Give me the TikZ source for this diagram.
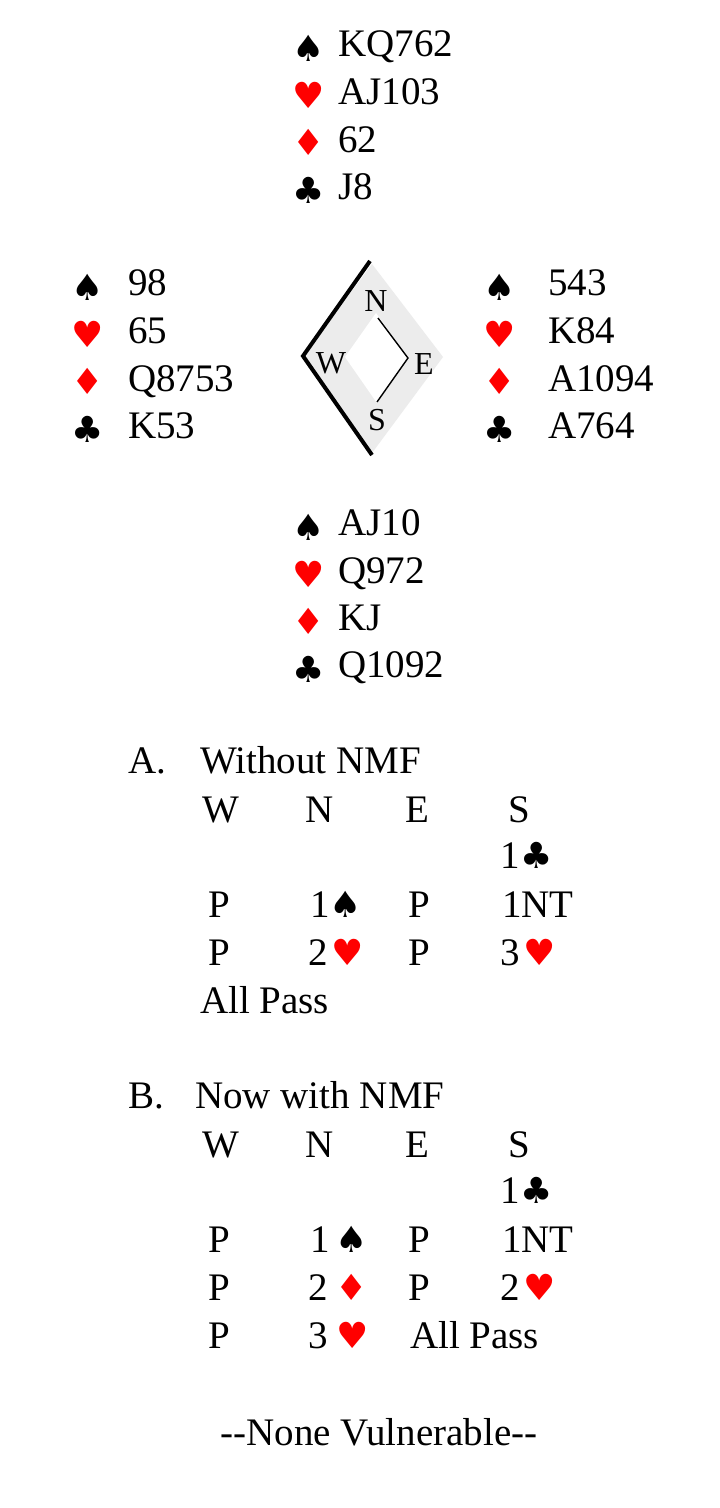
\documentclass[tikz,border=0pt]{standalone}
\usepackage{fontspec}
\setmainfont{Liberation Serif}
\newfontfamily\suitfont{DejaVu Sans}
\newcommand{\suitsize}{\fontsize{36}{36}\selectfont}
\newcommand{\mySpade}{{\suitfont\suitsize ♠}}
\newcommand{\myHeart}{{\suitfont\suitsize\color{red}♥}}
\newcommand{\myDiam}{{\suitfont\suitsize\color{red}♦}}
\newcommand{\myClub}{{\suitfont\suitsize ♣}}
\begin{document}
\begin{tikzpicture}[x=1pt,y=-1pt,
  txt/.style={inner sep=0pt, anchor=base west, font=\fontsize{39}{40}\selectfont},
  suitsym/.style={inner sep=0pt, anchor=center, font=\suitfont\suitsize},
  redsuit/.style={suitsym, text=red},
  cmp/.style={inner sep=0pt, anchor=center, font=\fontsize{32}{32}\selectfont},
  thickline/.style={line width=4pt, line join=miter},
  thinline/.style={line width=1.4pt}]
\useasboundingbox (0,0) rectangle (720,1508);
\fill[white] (0,0) rectangle (720,1508);

% ---- compass ----
\fill[gray!15] (372,264) -- (443,357) -- (372,453) -- (303,357) -- cycle;
\fill[white] (376,313) -- (408,358) -- (377,403) -- (345,357) -- cycle;
\coordinate (c1) at (370,261);
\coordinate (c2) at (303,356);
\coordinate (c3) at (372,455);
\draw[thickline] (c1) -- (c2) -- (c3);
\coordinate (d1) at (378,318);
\coordinate (d2) at (408,358);
\coordinate (d3) at (377,402);
\draw[thinline] (d1) -- (d2) -- (d3);
\node[cmp] (cN) at (376,301) {N};
\node[cmp] (cW) at (331,363) {W};
\node[cmp] (cE) at (424,364) {E};
\node[cmp] (cS) at (377,420) {S};

% ---- North ----
\node[suitsym] (ns) at (309,48) {♠};
\node[redsuit] (nh) at (309,95) {♥};
\node[redsuit] (nd) at (309,142) {♦};
\node[suitsym] (nc) at (309,190) {♣};
\node[txt] (nS) at (338,56) {KQ762};
\node[txt] (nH) at (338,104) {AJ103};
\node[txt] (nD) at (338,152) {62};
\node[txt] (nC) at (338,199) {J8};

% ---- West ----
\node[suitsym] (ws) at (88,287) {♠};
\node[redsuit] (wh) at (88,334) {♥};
\node[redsuit] (wd) at (88,381) {♦};
\node[suitsym] (wc) at (88,429) {♣};
\node[txt] (wS) at (128,295) {98};
\node[txt] (wH) at (128,343) {65};
\node[txt] (wD) at (128,391) {Q8753};
\node[txt] (wC) at (128,438) {K53};

% ---- East ----
\node[suitsym] (es) at (500,287) {♠};
\node[redsuit] (eh) at (500,334) {♥};
\node[redsuit] (ed) at (500,381) {♦};
\node[suitsym] (ec) at (500,429) {♣};
\node[txt] (eS) at (548,295) {543};
\node[txt] (eH) at (548,343) {K84};
\node[txt] (eD) at (548,391) {A1094};
\node[txt] (eC) at (548,438) {A764};

% ---- South ----
\node[suitsym] (ss) at (309,527) {♠};
\node[redsuit] (sh) at (309,574) {♥};
\node[redsuit] (sd) at (309,621) {♦};
\node[suitsym] (sc) at (309,669) {♣};
\node[txt] (sS) at (338,535) {AJ10};
\node[txt] (sH) at (338,583) {Q972};
\node[txt] (sD) at (338,630) {KJ};
\node[txt] (sC) at (338,677) {Q1092};

% ---- Auction A ----
\node[txt] (aL) at (128,773) {A.};
\node[txt] (aT) at (200,773) {Without NMF};
\node[txt] (aW) at (202,822) {W};
\node[txt] (aN) at (305,822) {N};
\node[txt] (aE) at (405,822) {E};
\node[txt] (aS) at (508,822) {S};
\node[txt] (a1s) at (500,868) {1\hspace{1pt}\myClub};
\node[txt] (a2w) at (208,917) {P};
\node[txt] (a2n) at (310,917) {1\hspace{0pt}\mySpade};
\node[txt] (a2e) at (408,917) {P};
\node[txt] (a2s) at (502,917) {1NT};
\node[txt] (a3w) at (208,965) {P};
\node[txt] (a3n) at (308,965) {2\hspace{4pt}\myHeart};
\node[txt] (a3e) at (408,965) {P};
\node[txt] (a3s) at (500,965) {3\hspace{4pt}\myHeart};
\node[txt] (a4) at (200,1013) {All Pass};

% ---- Auction B ----
\node[txt] (bL) at (128,1108) {B.};
\node[txt] (bT) at (195,1108) {Now with NMF};
\node[txt] (bW) at (202,1157) {W};
\node[txt] (bN) at (305,1157) {N};
\node[txt] (bE) at (405,1157) {E};
\node[txt] (bS) at (508,1157) {S};
\node[txt] (b1s) at (500,1203) {1\hspace{1pt}\myClub};
\node[txt] (b2w) at (208,1252) {P};
\node[txt] (b2n) at (310,1252) {1\hspace{6pt}\mySpade};
\node[txt] (b2e) at (408,1252) {P};
\node[txt] (b2s) at (502,1252) {1NT};
\node[txt] (b3w) at (208,1300) {P};
\node[txt] (b3n) at (308,1300) {2\hspace{8pt}\myDiam};
\node[txt] (b3e) at (408,1300) {P};
\node[txt] (b3s) at (500,1300) {2\hspace{4pt}\myHeart};
\node[txt] (b4w) at (208,1348) {P};
\node[txt] (b4n) at (308,1348) {3\hspace{9pt}\myHeart};
\node[txt] (b4e) at (410,1348) {All Pass};

% ---- footer ----
\node[txt, anchor=base] (vul) at (379,1445) {-{}-None Vulnerable-{}-};
\end{tikzpicture}
\end{document}
